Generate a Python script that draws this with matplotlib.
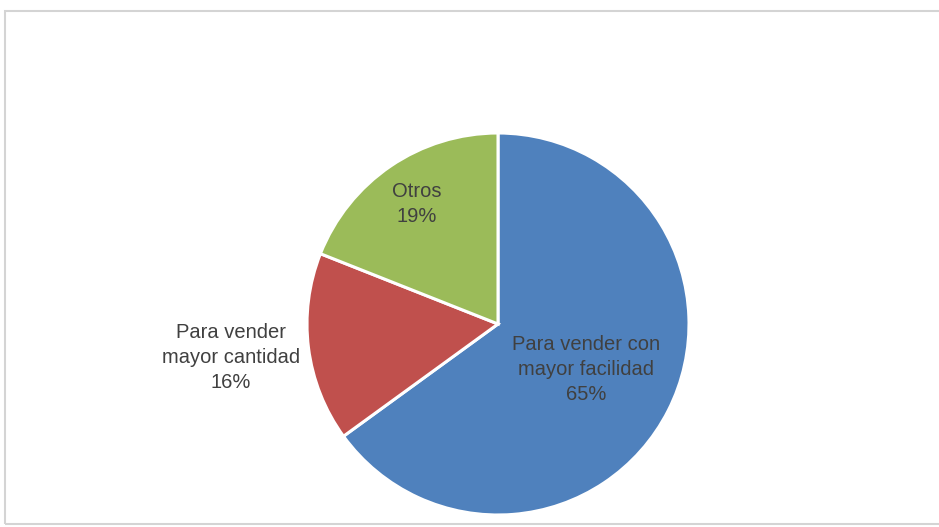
import numpy as np
import matplotlib.pyplot as plt
from matplotlib.patches import Rectangle

plt.rcParams['font.family'] = ['Liberation Sans', 'DejaVu Sans']

labels = ['Para vender con\nmayor facilidad', 'Para vender\nmayor cantidad', 'Otros']
values = [65, 16, 19]
colors = ['#4F81BD', '#C0504D', '#9BBB59']
label_dist = [0.52, 1.41, 0.76]


def main():
    fig = plt.figure(figsize=(9.39, 5.27), dpi=100)
    fig.patch.set_facecolor('white')

    # chart frame
    fig.patches.append(Rectangle((5 / 939, 3 / 527), 940 / 939, 513 / 527,
                                 transform=fig.transFigure, fill=False,
                                 edgecolor='#d4d4d4', linewidth=1.5))

    ax = fig.add_axes([0, 0, 1, 1])
    cx, cy, r = 498, 527 - 324, 191
    wedges, _ = ax.pie(values, colors=colors, startangle=90, counterclock=False,
                       center=(cx, cy), radius=r, frame=True,
                       wedgeprops=dict(edgecolor='white', linewidth=2.2))
    ax.set_xlim(0, 939)
    ax.set_ylim(0, 527)
    ax.set_aspect('equal')
    ax.axis('off')

    total = sum(values)
    for w, lab, v, d in zip(wedges, labels, values, label_dist):
        ang = np.deg2rad((w.theta1 + w.theta2) / 2)
        x = cx + d * r * np.cos(ang)
        y = cy + d * r * np.sin(ang)
        ax.text(x, y, f'{lab}\n{round(v / total * 100)}%', ha='center', va='center',
                fontsize=14.5, color='#404040', linespacing=1.4)

    fig.savefig('out.png', dpi=100)


if __name__ == '__main__':
    main()
